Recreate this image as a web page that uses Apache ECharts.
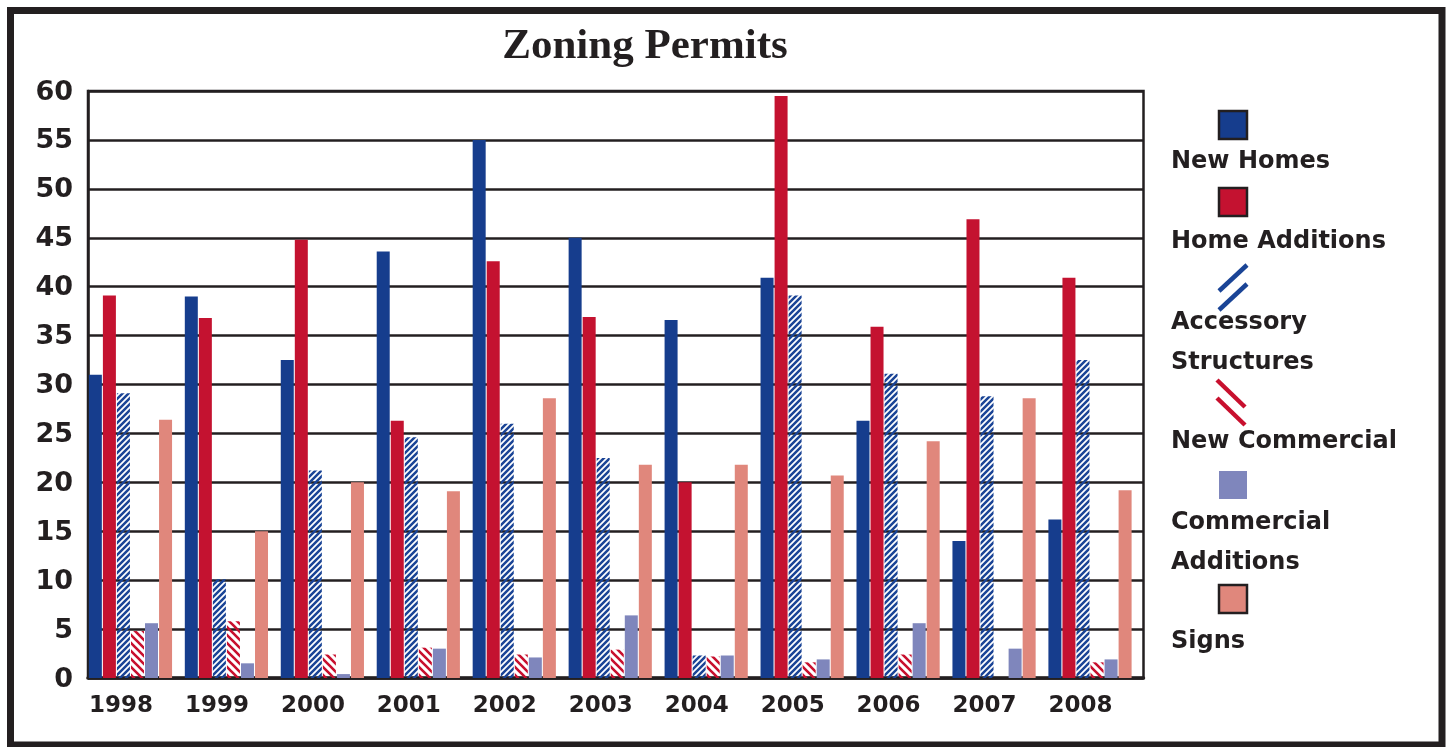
<!DOCTYPE html>
<html>
<head>
<meta charset="utf-8">
<style>html,body{margin:0;padding:0;background:#fff;}#chart{width:1449px;height:747px;}</style>
<script src="https://cdn.jsdelivr.net/npm/echarts@6/dist/echarts.min.js"></script>
</head>
<body>
<div id="chart"></div>
<script>
const years = ['1998','1999','2000','2001','2002','2003','2004','2005','2006','2007','2008'];
const newHomes = [31, 39, 32.5, 43.6, 55, 45, 36.6, 40.9, 26.3, 14, 16.2];
const homeAdditions = [39.1, 36.8, 44.8, 26.3, 42.6, 36.9, 20, 59.5, 35.9, 46.9, 40.9];
const accessoryStructures = [29.1, 10.1, 21.2, 24.6, 26, 22.5, 2.3, 39.1, 31.1, 28.8, 32.5];
const newCommercial = [4.8, 5.8, 2.4, 3.1, 2.4, 2.9, 2.2, 1.6, 2.4, 0, 1.6];
const commercialAdditions = [5.6, 1.5, 0.4, 3, 2.1, 6.4, 2.3, 1.9, 5.6, 3, 1.9];
const signs = [26.4, 15, 20, 19.1, 28.6, 21.8, 21.8, 20.7, 24.2, 28.6, 19.2];
const yTicks = [0, 60, 5];

const INK = '#231f20';
const C_NH = '#163d8d', C_HA = '#c41230', C_ACC = '#1a4496', C_NC = '#c8102e', C_CA = '#7f86bc', C_SG = '#e0877c';
const FONT = 'DejaVu Sans';

function hatch(color, size, dir, lw) {
  const c = document.createElement('canvas');
  c.width = size; c.height = size;
  const g = c.getContext('2d');
  g.strokeStyle = color; g.lineWidth = lw; g.lineCap = 'butt';
  g.beginPath();
  for (let k = -1; k <= 1; k++) {
    if (dir === '/') { g.moveTo(-size + k * size, size * 2); g.lineTo(size * 2 + k * size, -size); }
    else { g.moveTo(-size + k * size, -size); g.lineTo(size * 2 + k * size, size * 2); }
  }
  g.stroke();
  return c;
}

const chart = echarts.init(document.getElementById('chart'));

const barBase = { type: 'bar', barWidth: 13, barGap: '8%', silent: true };
const series = [
  Object.assign({}, barBase, { name: 'New Homes', data: newHomes, itemStyle: { color: C_NH } }),
  Object.assign({}, barBase, { name: 'Home Additions', data: homeAdditions, itemStyle: { color: C_HA } }),
  Object.assign({}, barBase, { name: 'Accessory Structures', data: accessoryStructures, itemStyle: { color: { image: hatch(C_ACC, 6, '/', 2.5), repeat: 'repeat' } } }),
  Object.assign({}, barBase, { name: 'New Commercial', data: newCommercial, itemStyle: { color: { image: hatch(C_NC, 8, '\\', 2.6), repeat: 'repeat' } } }),
  Object.assign({}, barBase, { name: 'Commercial Additions', data: commercialAdditions, itemStyle: { color: C_CA } }),
  Object.assign({}, barBase, { name: 'Signs', data: signs, itemStyle: { color: C_SG } }),
  Object.assign({}, barBase, { name: 'pad', data: [], barWidth: 10 })
];

// legend drawn as graphics (icons above their labels)
const legendItems = [
  { label: 'New Homes', icon: 'box', color: C_NH, border: true, iy: 111, ty: 162 },
  { label: 'Home Additions', icon: 'box', color: C_HA, border: true, iy: 188, ty: 242 },
  { label: 'Accessory\nStructures', icon: '/', color: C_ACC, iy: 263, ty: 343 },
  { label: 'New Commercial', icon: '\\', color: C_NC, iy: 380, ty: 442 },
  { label: 'Commercial\nAdditions', icon: 'box', color: C_CA, border: false, iy: 471, ty: 543 },
  { label: 'Signs', icon: 'box', color: C_SG, border: true, iy: 585, ty: 642 }
];
const graphics = [
  { type: 'rect', shape: { x: 10.5, y: 10.5, width: 1431.5, height: 734.5 }, style: { fill: 'none', stroke: INK, lineWidth: 7 }, silent: true }
];
legendItems.forEach(function (it) {
  if (it.icon === 'box') {
    graphics.push({ type: 'rect', shape: { x: 1219, y: it.iy, width: 28, height: 28 },
      style: { fill: it.color, stroke: it.border ? INK : null, lineWidth: it.border ? 2.5 : 0 }, silent: true });
  } else if (it.icon === '/') {
    graphics.push({ type: 'line', shape: { x1: 1219, y1: it.iy + 28, x2: 1247, y2: it.iy + 2 }, style: { stroke: it.color, lineWidth: 4.5 }, silent: true });
    graphics.push({ type: 'line', shape: { x1: 1219, y1: it.iy + 47, x2: 1247, y2: it.iy + 21 }, style: { stroke: it.color, lineWidth: 4.5 }, silent: true });
  } else {
    graphics.push({ type: 'line', shape: { x1: 1217, y1: it.iy, x2: 1245, y2: it.iy + 27 }, style: { stroke: it.color, lineWidth: 4.5 }, silent: true });
    graphics.push({ type: 'line', shape: { x1: 1217, y1: it.iy + 18, x2: 1245, y2: it.iy + 45 }, style: { stroke: it.color, lineWidth: 4.5 }, silent: true });
  }
  graphics.push({ type: 'text', x: 1171, y: it.ty, style: { text: it.label, fill: INK, font: 'bold 24px "' + FONT + '"', lineHeight: 40, verticalAlign: 'middle', align: 'left' }, silent: true });
});

chart.setOption({
  animation: false,
  backgroundColor: '#fff',
  title: {
    text: 'Zoning Permits', left: 640, top: 20, textAlign: 'center',
    textStyle: { fontFamily: 'Liberation Serif', fontWeight: 'bold', fontSize: 43, color: INK }
  },
  grid: { left: 88, right: 305.5, top: 91, bottom: 69, show: true, borderColor: INK, borderWidth: 2.5, backgroundColor: 'transparent' },
  xAxis: {
    type: 'category', data: years,
    axisLine: { lineStyle: { color: INK, width: 3.5 } },
    axisTick: { show: false },
    axisLabel: { fontFamily: FONT, fontWeight: 'bold', fontSize: 23, color: INK, margin: 17, padding: [0, 30, 0, 0] }
  },
  yAxis: {
    type: 'value', min: yTicks[0], max: yTicks[1], interval: yTicks[2],
    axisLine: { show: true, lineStyle: { color: INK, width: 2.5 } },
    axisTick: { show: false },
    splitLine: { show: true, lineStyle: { color: INK, width: 2.5 } },
    axisLabel: { fontFamily: FONT, fontWeight: 'bold', fontSize: 27, color: INK, margin: 15, verticalAlign: 'top', padding: [-12, 0, 0, 0] }
  },
  series: series,
  graphic: graphics
});
</script>
</body>
</html>
